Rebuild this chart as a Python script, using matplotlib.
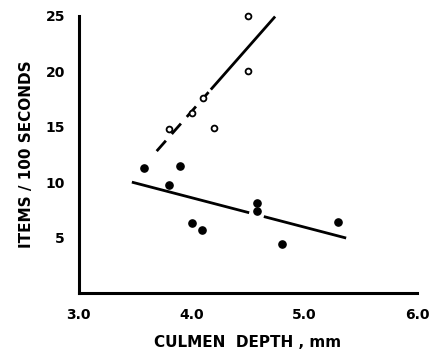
import numpy as np
import matplotlib
matplotlib.use('Agg')
import matplotlib.pyplot as plt

matplotlib.rcParams['font.family'] = 'DejaVu Sans'
matplotlib.rcParams['font.weight'] = 'bold'

# Open circles (upper group)
open_x = [4.5, 4.5, 4.1, 4.0, 3.8, 4.2]
open_y = [25.0, 20.0, 17.6, 16.2, 14.8, 14.9]

# Filled circles (lower group)
filled_x = [3.58, 3.90, 3.80, 4.00, 4.09, 4.58, 4.58, 4.80, 5.30]
filled_y = [11.3, 11.5, 9.7, 6.3, 5.7, 8.1, 7.4, 4.4, 6.4]

# Fitted lines: (x0, y0) -> (x1, y1)
open_fit_x = [3.69, 4.74]
open_fit_y = [12.8, 24.95]
open_dash_end = 4.15          # dashed below this x, solid above
filled_fit_x = [3.47, 5.37]
filled_fit_y = [10.0, 4.95]
filled_gap = (4.51, 4.64)     # break in the lower line

xticks = [3.0, 4.0, 5.0, 6.0]
yticks = [5, 10, 15, 20, 25]


def line_y(xs, ys, x):
    return np.interp(x, xs, ys)


fig = plt.figure(figsize=(4.31, 3.55), dpi=100)
ax = fig.add_axes([0.183, 0.175, 0.785, 0.78])

# upper fit: dashed part then solid part
xd = [open_fit_x[0], open_dash_end]
ax.plot(xd, line_y(open_fit_x, open_fit_y, xd), color='black', lw=2.0,
        dashes=(5, 3.2), solid_capstyle='butt', dash_capstyle='butt')
xs = [open_dash_end + 0.02, open_fit_x[1]]
ax.plot(xs, line_y(open_fit_x, open_fit_y, xs), color='black', lw=2.0,
        solid_capstyle='butt', clip_on=False)

# lower fit with a small break
for seg in ([filled_fit_x[0], filled_gap[0]], [filled_gap[1], filled_fit_x[1]]):
    ax.plot(seg, line_y(filled_fit_x, filled_fit_y, seg), color='black', lw=2.0,
            solid_capstyle='butt')

ax.plot(open_x, open_y, 'o', ms=4.2, mfc='white', mec='black', mew=1.3,
        zorder=5, clip_on=False)
ax.plot(filled_x, filled_y, 'o', ms=5.2, mfc='black', mec='black', zorder=5)

ax.set_xlim(3.0, 6.0)
ax.set_ylim(0, 25)
ax.set_xticks(xticks)
ax.set_xticklabels([f'{t:.1f}' for t in xticks])
ax.set_yticks(yticks)
ax.set_yticklabels([str(t) for t in yticks])
ax.tick_params(length=0, labelsize=10)
ax.tick_params(axis='x', pad=11)
ax.tick_params(axis='y', pad=10)

for s in ['top', 'right']:
    ax.spines[s].set_visible(False)
for s in ['left', 'bottom']:
    ax.spines[s].set_linewidth(2.2)

ax.set_xlabel('CULMEN  DEPTH , mm', fontsize=11, fontweight='bold', labelpad=9)
ax.set_ylabel('ITEMS / 100 SECONDS', fontsize=11, fontweight='bold', labelpad=8)

fig.savefig('out.png', dpi=100, facecolor='white')
